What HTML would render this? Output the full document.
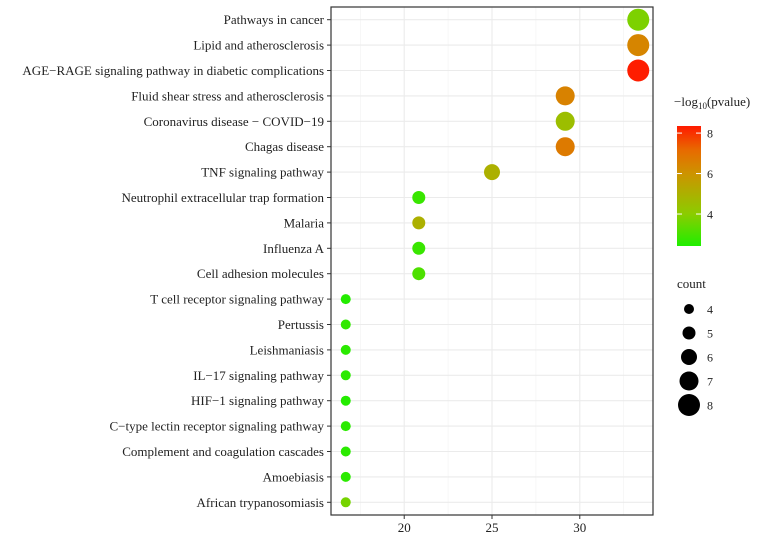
<!DOCTYPE html>
<html><head><meta charset="utf-8"><style>
body{margin:0;background:#fff;font-family:"Liberation Serif",serif;}
svg text{font-family:"Liberation Serif",serif;}
</style></head><body>
<svg id="chart" width="760" height="536" xmlns="http://www.w3.org/2000/svg">
<defs><linearGradient id="cg" x1="0" y1="1" x2="0" y2="0">
<stop offset="0" stop-color="#1fee00"/><stop offset="0.27" stop-color="#8ccc00"/><stop offset="0.6" stop-color="#cc9400"/><stop offset="0.8" stop-color="#e86a00"/><stop offset="1" stop-color="#ff1a00"/>
</linearGradient></defs>
<g id="grid"></g><g id="marks"></g><g id="axes"></g><g id="legend"></g>
</svg>
<script>
const categories=["Pathways in cancer","Lipid and atherosclerosis","AGE\u2212RAGE signaling pathway in diabetic complications","Fluid shear stress and atherosclerosis","Coronavirus disease \u2212 COVID\u221219","Chagas disease","TNF signaling pathway","Neutrophil extracellular trap formation","Malaria","Influenza A","Cell adhesion molecules","T cell receptor signaling pathway","Pertussis","Leishmaniasis","IL\u221217 signaling pathway","HIF\u22121 signaling pathway","C\u2212type lectin receptor signaling pathway","Complement and coagulation cascades","Amoebiasis","African trypanosomiasis"];
const counts=[8,8,8,7,7,7,6,5,5,5,5,4,4,4,4,4,4,4,4,4];
const ratios=[33.33,33.33,33.33,29.17,29.17,29.17,25,20.83,20.83,20.83,20.83,16.67,16.67,16.67,16.67,16.67,16.67,16.67,16.67,16.67];
const logp=[3.8,6.4,8.3,6.5,4.5,6.7,5.0,2.8,5.0,2.8,3.1,2.5,2.7,2.6,2.6,2.5,2.6,2.6,2.6,3.7];
const xTicks=[20,25,30];
const cTicks=[4,6,8];
const sizeLevels=[4,5,6,7,8];
const NS="http://www.w3.org/2000/svg";
const L=331,R=653,T=7,B=515,xmin=15.83,xmax=34.17;
const x=v=>L+(v-xmin)/(xmax-xmin)*(R-L);
const rowH=(B-T)/categories.length;
const y=i=>T+rowH*(i+0.5);
const rad=c=>5+(c-4)*1.5;
const cmin=2.42,cmax=8.35;
function col(v){const t=Math.max(0,Math.min(1,(v-cmin)/(cmax-cmin)));
const st=[[0,[31,238,0]],[0.27,[140,204,0]],[0.6,[204,148,0]],[0.8,[232,106,0]],[1,[255,26,0]]];
for(let k=1;k<st.length;k++){if(t<=st[k][0]){const a=st[k-1],b=st[k],f=(t-a[0])/(b[0]-a[0]);
return "rgb("+a[1].map((c,j)=>Math.round(c+(b[1][j]-c)*f)).join(",")+")";}}return "rgb(255,26,0)";}
function mk(tag,at,p){const e=document.createElementNS(NS,tag);for(const k in at)e.setAttribute(k,at[k]);p.appendChild(e);return e;}
const g=document.getElementById("grid"),m=document.getElementById("marks"),ax=document.getElementById("axes"),lg=document.getElementById("legend");
for(let v=17.5;v<34.2;v+=5){const l=mk("line",{x1:x(v),x2:x(v),y1:T,y2:B,stroke:"#f2f2f2","stroke-width":0.6},g);

}
xTicks.forEach(v=>{const l=mk("line",{x1:x(v),x2:x(v),y1:T,y2:B,stroke:"#ebebeb","stroke-width":1.1},g);


mk("line",{x1:x(v),x2:x(v),y1:B,y2:B+4,stroke:"#333"},ax);
const t=mk("text",{x:x(v),y:B+17,"text-anchor":"middle","font-size":13,fill:"#222"},ax);t.textContent=v;

});
categories.forEach((c,i)=>{const l=mk("line",{x1:L,x2:R,y1:y(i),y2:y(i),stroke:"#ebebeb","stroke-width":1.1},g);


mk("line",{x1:L-4,x2:L,y1:y(i),y2:y(i),stroke:"#333"},ax);
const t=mk("text",{x:L-7,y:y(i)+4.5,"text-anchor":"end","font-size":13,fill:"#222"},ax);t.textContent=c;


const d=mk("circle",{cx:x(ratios[i]),cy:y(i),r:rad(counts[i]),fill:col(logp[i])},m);

});
const fr=mk("rect",{x:L,y:T,width:R-L,height:B-T,fill:"none",stroke:"#333","stroke-width":1.2},ax);


const tt=mk("text",{x:674,y:106,"font-size":13,fill:"#222"},lg);
tt.innerHTML='\u2212log<tspan font-size="9" dy="3">10</tspan><tspan dy="-3">(pvalue)</tspan>';


const CT=126,CB=246,cy=v=>CB-(v-cmin)/(cmax-cmin)*(CB-CT);
const bar=mk("rect",{x:677,y:CT,width:24,height:CB-CT,fill:"url(#cg)"},lg);


cTicks.forEach(v=>{mk("line",{x1:677,x2:682,y1:cy(v),y2:cy(v),stroke:"#fff"},lg);mk("line",{x1:696,x2:701,y1:cy(v),y2:cy(v),stroke:"#fff"},lg);
const t=mk("text",{x:707,y:cy(v)+4.5,"font-size":12,fill:"#222"},lg);t.textContent=v;

});
const st=mk("text",{x:677,y:288,"font-size":13,fill:"#222"},lg);st.textContent="count";


sizeLevels.forEach((s,k)=>{const yy=309+k*24;const c=mk("circle",{cx:689,cy:yy,r:rad(s),fill:"#000"},lg);


const t=mk("text",{x:707,y:yy+4.5,"font-size":12,fill:"#222"},lg);t.textContent=s;

});
</script>
</body></html>
